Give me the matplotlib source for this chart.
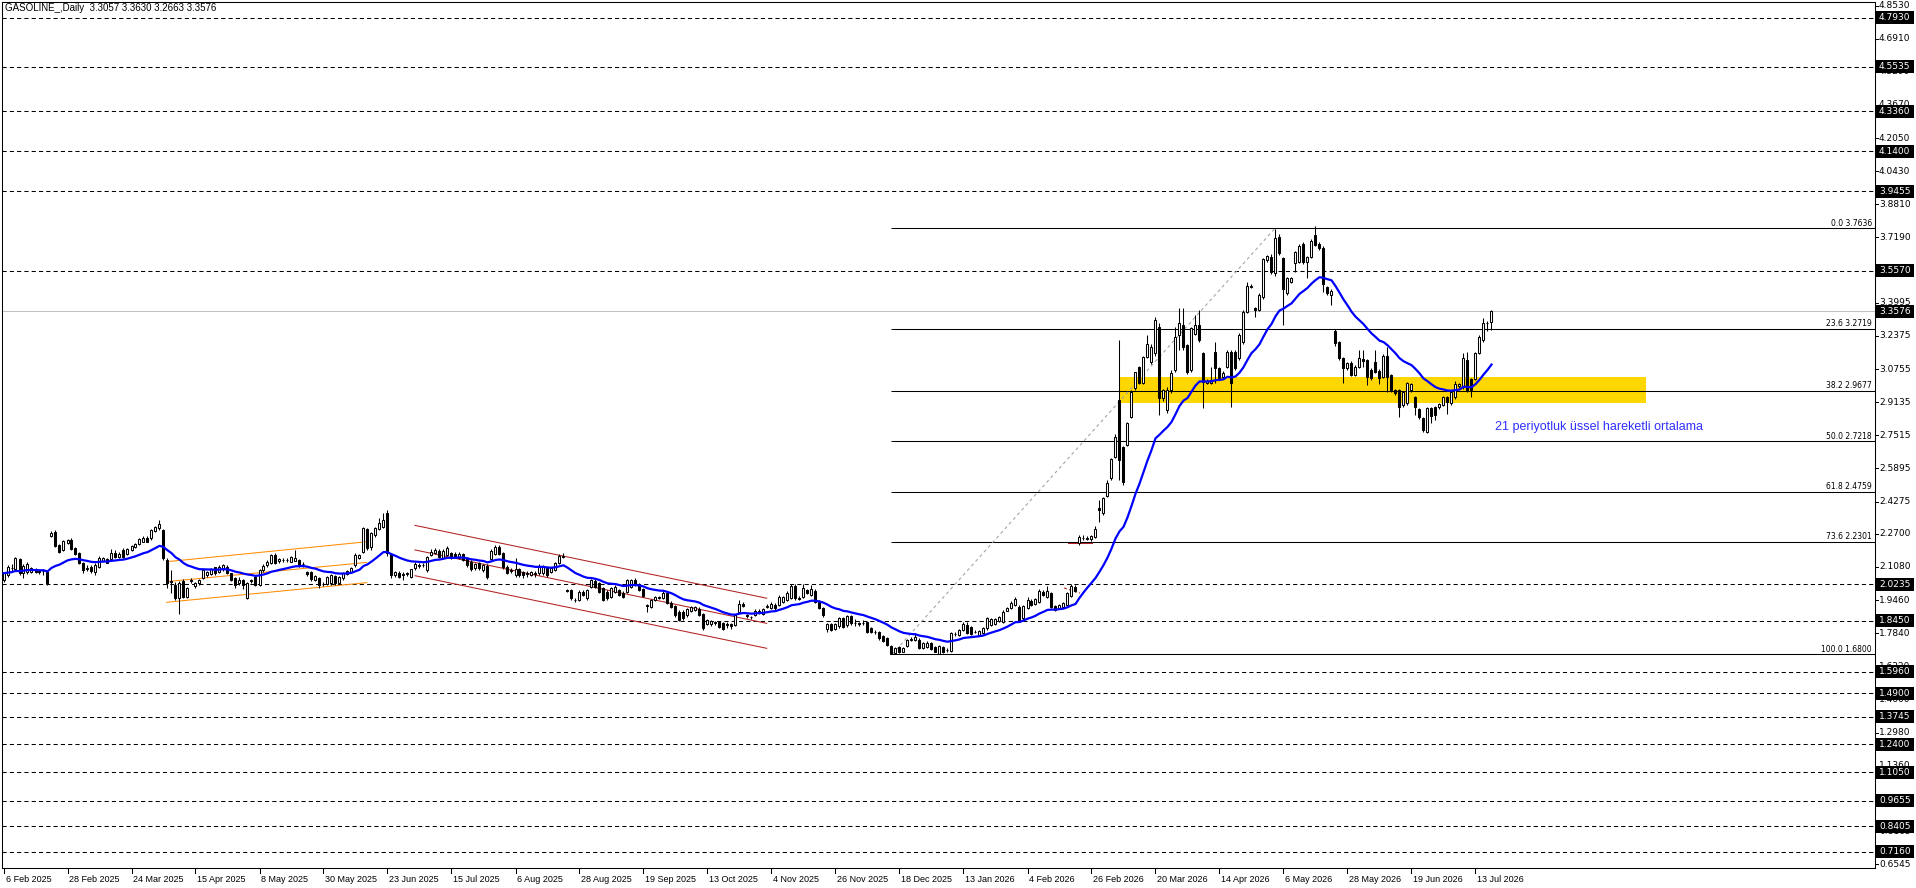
import matplotlib
matplotlib.use("Agg")

import matplotlib.pyplot as plt
import matplotlib.transforms as mtransforms
import numpy as np
import pandas as pd
from matplotlib.patches import Rectangle

# daily candles, 6 Feb 2025 .. 17 Jul 2026
OPENS = [
    2.044, 2.069, 2.105, 2.098, 2.146, 2.077, 2.085, 2.085, 2.099, 2.086,
    2.087, 2.085, 2.259, 2.280, 2.215, 2.191, 2.227, 2.240, 2.199, 2.175,
    2.126, 2.100, 2.109, 2.085, 2.109, 2.139, 2.145, 2.145, 2.175, 2.155,
    2.191, 2.171, 2.191, 2.204, 2.220, 2.232, 2.251, 2.248, 2.282, 2.297,
    2.289, 2.142, 2.040, 2.020, 1.958, 2.039, 1.963, 2.040, 2.015, 2.028,
    2.052, 2.069, 2.073, 2.106, 2.085, 2.096, 2.109, 2.077, 2.052, 2.028,
    2.044, 1.958, 2.040, 2.060, 2.020, 2.093, 2.117, 2.126, 2.166, 2.139,
    2.142, 2.140, 2.134, 2.139, 2.142, 2.122, 2.085, 2.085, 2.044, 2.055,
    2.025, 2.025, 2.028, 2.064, 2.028, 2.052, 2.073, 2.085, 2.117, 2.153,
    2.183, 2.292, 2.204, 2.264, 2.294, 2.305, 2.373, 2.171, 2.068, 2.080,
    2.068, 2.077, 2.060, 2.101, 2.112, 2.118, 2.093, 2.166, 2.174, 2.188,
    2.150, 2.166, 2.174, 2.171, 2.150, 2.171, 2.150, 2.134, 2.101, 2.126,
    2.093, 2.112, 2.145, 2.171, 2.207, 2.174, 2.109, 2.095, 2.068, 2.096,
    2.085, 2.074, 2.068, 2.080, 2.077, 2.077, 2.106, 2.085, 2.093, 2.126,
    2.158, 1.995, 1.995, 1.948, 1.946, 1.987, 1.954, 2.011, 2.040, 2.028,
    2.003, 1.987, 1.963, 1.987, 1.995, 1.982, 1.987, 2.011, 2.044, 2.024,
    1.998, 1.920, 1.914, 1.946, 1.958, 1.954, 1.979, 1.933, 1.917, 1.889,
    1.889, 1.873, 1.894, 1.897, 1.901, 1.878, 1.829, 1.827, 1.835, 1.840,
    1.835, 1.828, 1.827, 1.824, 1.889, 1.927, 1.873, 1.862, 1.873, 1.881,
    1.878, 1.910, 1.905, 1.922, 1.922, 1.938, 1.946, 1.954, 2.015, 1.956,
    1.959, 1.995, 1.971, 1.992, 1.938, 1.905, 1.803, 1.829, 1.803, 1.819,
    1.857, 1.824, 1.868, 1.836, 1.833, 1.834, 1.840, 1.808, 1.792, 1.791,
    1.770, 1.759, 1.721, 1.685, 1.718, 1.694, 1.721, 1.752, 1.751, 1.751,
    1.710, 1.718, 1.734, 1.718, 1.682, 1.718, 1.700, 1.698, 1.781, 1.775,
    1.800, 1.824, 1.816, 1.792, 1.775, 1.787, 1.808, 1.824, 1.829, 1.845,
    1.840, 1.894, 1.905, 1.922, 1.914, 1.857, 1.905, 1.943, 1.927, 1.938,
    1.987, 1.963, 1.979, 1.917, 1.905, 1.910, 1.922, 1.966, 2.008, 2.223,
    2.250, 2.246, 2.243, 2.253, 2.394, 2.370, 2.455, 2.541, 2.647, 2.924,
    2.693, 2.704, 2.843, 2.981, 3.085, 3.006, 3.136, 3.110, 3.152, 3.283,
    2.932, 2.875, 2.973, 3.071, 3.242, 3.291, 3.193, 3.071, 3.247, 3.291,
    3.152, 3.009, 3.005, 3.160, 3.079, 3.038, 3.087, 3.160, 3.160, 3.128,
    3.209, 3.356, 3.475, 3.372, 3.364, 3.429, 3.609, 3.625, 3.543, 3.723,
    3.617, 3.446, 3.503, 3.595, 3.600, 3.687, 3.600, 3.625, 3.731, 3.687,
    3.666, 3.475, 3.437, 3.263, 3.209, 3.128, 3.079, 3.106, 3.046, 3.087,
    3.123, 3.120, 3.071, 3.111, 3.067, 3.038, 3.139, 3.046, 2.973, 2.973,
    2.899, 2.908, 2.973, 2.937, 2.878, 2.834, 2.769, 2.883, 2.888, 2.888,
    2.899, 2.937, 2.908, 2.937, 2.992, 2.989, 3.120, 3.025, 3.025, 3.155,
    3.217, 3.299, 3.3057,
]
HIGHS = [
    2.085, 2.115, 2.120, 2.155, 2.152, 2.120, 2.130, 2.108, 2.105, 2.095,
    2.100, 2.090, 2.282, 2.290, 2.220, 2.240, 2.245, 2.250, 2.205, 2.180,
    2.130, 2.115, 2.115, 2.125, 2.160, 2.155, 2.150, 2.195, 2.190, 2.180,
    2.200, 2.200, 2.215, 2.225, 2.250, 2.260, 2.258, 2.295, 2.310, 2.338,
    2.295, 2.150, 2.093, 2.035, 2.040, 2.050, 2.010, 2.052, 2.035, 2.050,
    2.100, 2.090, 2.105, 2.110, 2.115, 2.120, 2.115, 2.080, 2.060, 2.060,
    2.050, 2.035, 2.050, 2.070, 2.100, 2.120, 2.140, 2.170, 2.175, 2.150,
    2.150, 2.150, 2.162, 2.191, 2.148, 2.130, 2.090, 2.090, 2.070, 2.060,
    2.035, 2.065, 2.075, 2.070, 2.065, 2.085, 2.095, 2.110, 2.175, 2.172,
    2.305, 2.300, 2.280, 2.305, 2.345, 2.370, 2.385, 2.175, 2.090, 2.090,
    2.085, 2.085, 2.100, 2.130, 2.125, 2.125, 2.160, 2.195, 2.200, 2.195,
    2.195, 2.210, 2.180, 2.180, 2.180, 2.178, 2.155, 2.140, 2.128, 2.130,
    2.122, 2.120, 2.195, 2.215, 2.215, 2.180, 2.115, 2.105, 2.150, 2.105,
    2.090, 2.090, 2.090, 2.090, 2.120, 2.118, 2.112, 2.110, 2.130, 2.170,
    2.178, 2.000, 2.000, 1.955, 1.995, 1.995, 2.000, 2.050, 2.050, 2.035,
    2.010, 1.995, 2.010, 2.020, 2.000, 1.990, 2.050, 2.050, 2.052, 2.030,
    2.005, 1.925, 1.952, 1.968, 1.965, 1.990, 1.985, 1.940, 1.920, 1.895,
    1.895, 1.905, 1.915, 1.918, 1.910, 1.882, 1.855, 1.850, 1.845, 1.845,
    1.840, 1.840, 1.835, 1.880, 1.945, 1.935, 1.878, 1.870, 1.900, 1.900,
    1.905, 1.925, 1.935, 1.930, 1.970, 1.968, 1.990, 2.025, 2.025, 1.965,
    2.025, 2.000, 2.020, 2.000, 1.945, 1.910, 1.835, 1.835, 1.835, 1.862,
    1.862, 1.873, 1.875, 1.855, 1.840, 1.850, 1.845, 1.815, 1.800, 1.795,
    1.775, 1.765, 1.725, 1.715, 1.722, 1.718, 1.755, 1.765, 1.785, 1.758,
    1.740, 1.745, 1.740, 1.722, 1.725, 1.722, 1.710, 1.788, 1.790, 1.805,
    1.840, 1.840, 1.820, 1.800, 1.800, 1.815, 1.862, 1.858, 1.860, 1.870,
    1.895, 1.910, 1.940, 1.960, 1.920, 1.922, 1.960, 1.950, 1.955, 2.000,
    1.995, 2.015, 1.985, 1.922, 1.928, 1.935, 1.985, 2.025, 2.020, 2.262,
    2.262, 2.260, 2.265, 2.310, 2.435, 2.450, 2.533, 2.640, 2.760, 3.218,
    2.700, 2.818, 2.973, 3.063, 3.090, 3.139, 3.242, 3.200, 3.331, 3.300,
    2.980, 2.990, 3.070, 3.283, 3.372, 3.372, 3.200, 3.280, 3.340, 3.364,
    3.160, 3.025, 3.087, 3.209, 3.085, 3.065, 3.170, 3.170, 3.170, 3.250,
    3.365, 3.503, 3.490, 3.380, 3.445, 3.620, 3.635, 3.640, 3.760, 3.735,
    3.625, 3.525, 3.525, 3.655, 3.685, 3.698, 3.630, 3.710, 3.775, 3.695,
    3.675, 3.480, 3.465, 3.270, 3.215, 3.135, 3.110, 3.115, 3.095, 3.168,
    3.168, 3.125, 3.080, 3.168, 3.075, 3.150, 3.185, 3.050, 2.980, 2.980,
    2.970, 3.010, 3.005, 2.945, 2.885, 2.840, 2.890, 2.890, 2.895, 2.910,
    2.945, 2.945, 2.970, 3.018, 3.005, 3.155, 3.160, 3.030, 3.160, 3.240,
    3.323, 3.310, 3.3630,
]
LOWS = [
    2.035, 2.060, 2.090, 2.090, 2.070, 2.052, 2.075, 2.080, 2.078, 2.072,
    2.070, 2.022, 2.255, 2.205, 2.175, 2.185, 2.220, 2.190, 2.165, 2.120,
    2.080, 2.090, 2.080, 2.068, 2.105, 2.130, 2.125, 2.140, 2.150, 2.150,
    2.150, 2.165, 2.185, 2.200, 2.215, 2.228, 2.228, 2.240, 2.278, 2.290,
    2.140, 2.003, 1.979, 1.945, 1.878, 1.955, 1.955, 2.030, 2.005, 2.020,
    2.048, 2.060, 2.068, 2.070, 2.080, 2.090, 2.075, 2.040, 2.005, 2.020,
    2.000, 1.950, 2.030, 2.015, 2.015, 2.085, 2.110, 2.120, 2.120, 2.125,
    2.130, 2.130, 2.130, 2.135, 2.110, 2.110, 2.065, 2.040, 2.040, 2.003,
    2.015, 2.020, 2.020, 2.022, 2.025, 2.045, 2.070, 2.080, 2.110, 2.145,
    2.175, 2.190, 2.190, 2.255, 2.290, 2.300, 2.160, 2.055, 2.060, 2.055,
    2.044, 2.065, 2.055, 2.095, 2.105, 2.110, 2.085, 2.160, 2.170, 2.150,
    2.145, 2.160, 2.145, 2.150, 2.145, 2.135, 2.110, 2.090, 2.095, 2.095,
    2.085, 2.050, 2.140, 2.165, 2.165, 2.100, 2.075, 2.080, 2.060, 2.060,
    2.055, 2.060, 2.062, 2.060, 2.070, 2.070, 2.060, 2.080, 2.088, 2.120,
    2.150, 1.985, 1.945, 1.935, 1.940, 1.965, 1.945, 2.005, 2.005, 1.980,
    1.940, 1.948, 1.955, 1.980, 1.965, 1.955, 1.980, 2.005, 2.015, 1.990,
    1.960, 1.889, 1.905, 1.940, 1.950, 1.950, 1.925, 1.905, 1.865, 1.845,
    1.850, 1.865, 1.888, 1.890, 1.868, 1.800, 1.825, 1.820, 1.825, 1.810,
    1.798, 1.810, 1.805, 1.818, 1.885, 1.912, 1.860, 1.855, 1.868, 1.876,
    1.872, 1.905, 1.900, 1.898, 1.915, 1.930, 1.940, 1.950, 1.948, 1.945,
    1.955, 1.975, 1.965, 1.930, 1.900, 1.865, 1.790, 1.795, 1.798, 1.810,
    1.810, 1.815, 1.825, 1.820, 1.820, 1.825, 1.785, 1.785, 1.780, 1.752,
    1.740, 1.720, 1.680, 1.681, 1.688, 1.690, 1.715, 1.745, 1.745, 1.705,
    1.705, 1.712, 1.700, 1.690, 1.681, 1.688, 1.690, 1.690, 1.770, 1.770,
    1.795, 1.778, 1.775, 1.785, 1.770, 1.780, 1.800, 1.818, 1.824, 1.840,
    1.835, 1.890, 1.900, 1.918, 1.840, 1.850, 1.900, 1.918, 1.920, 1.932,
    1.965, 1.958, 1.908, 1.890, 1.900, 1.905, 1.918, 1.960, 1.985, 2.215,
    2.240, 2.240, 2.235, 2.248, 2.329, 2.360, 2.448, 2.533, 2.640, 2.533,
    2.509, 2.700, 2.834, 2.975, 3.000, 3.000, 3.130, 3.100, 3.140, 2.851,
    2.920, 2.860, 2.960, 3.060, 3.168, 3.170, 3.050, 3.060, 3.240, 3.210,
    2.883, 3.000, 3.000, 3.005, 3.020, 3.030, 3.080, 2.891, 3.070, 3.120,
    3.200, 3.350, 3.470, 3.330, 3.360, 3.420, 3.600, 3.540, 3.530, 3.635,
    3.291, 3.440, 3.495, 3.551, 3.595, 3.590, 3.519, 3.620, 3.675, 3.660,
    3.454, 3.440, 3.388, 3.190, 3.120, 3.005, 3.070, 3.040, 3.040, 3.080,
    3.087, 2.997, 3.020, 3.055, 3.000, 3.030, 2.965, 2.965, 2.950, 2.842,
    2.890, 2.900, 2.965, 2.851, 2.830, 2.770, 2.762, 2.810, 2.826, 2.880,
    2.895, 2.855, 2.900, 2.930, 2.985, 2.980, 2.965, 2.940, 3.020, 3.150,
    3.210, 3.263, 3.2663,
]
CLOSES = [
    2.077, 2.109, 2.104, 2.150, 2.077, 2.113, 2.121, 2.101, 2.085, 2.084,
    2.090, 2.028, 2.276, 2.210, 2.183, 2.236, 2.240, 2.196, 2.171, 2.126,
    2.093, 2.102, 2.088, 2.117, 2.150, 2.150, 2.129, 2.178, 2.155, 2.171,
    2.158, 2.194, 2.210, 2.220, 2.243, 2.251, 2.232, 2.289, 2.302, 2.318,
    2.150, 2.028, 2.036, 1.954, 2.028, 1.959, 2.003, 2.046, 2.031, 2.044,
    2.093, 2.085, 2.096, 2.077, 2.109, 2.117, 2.080, 2.044, 2.020, 2.044,
    2.020, 2.028, 2.042, 2.020, 2.093, 2.113, 2.134, 2.166, 2.126, 2.145,
    2.140, 2.144, 2.158, 2.150, 2.117, 2.120, 2.073, 2.047, 2.064, 2.020,
    2.024, 2.057, 2.069, 2.028, 2.057, 2.077, 2.088, 2.101, 2.166, 2.166,
    2.297, 2.199, 2.272, 2.297, 2.325, 2.338, 2.175, 2.068, 2.085, 2.060,
    2.072, 2.074, 2.096, 2.122, 2.118, 2.115, 2.155, 2.183, 2.191, 2.158,
    2.188, 2.199, 2.150, 2.155, 2.171, 2.142, 2.117, 2.096, 2.122, 2.101,
    2.117, 2.060, 2.188, 2.207, 2.171, 2.109, 2.080, 2.090, 2.096, 2.068,
    2.068, 2.078, 2.085, 2.075, 2.109, 2.109, 2.068, 2.101, 2.126, 2.161,
    2.163, 1.990, 1.954, 1.946, 1.987, 1.971, 1.995, 2.044, 2.011, 1.987,
    1.946, 1.954, 2.003, 2.011, 1.971, 1.963, 2.044, 2.044, 2.020, 1.995,
    1.966, 1.917, 1.946, 1.963, 1.960, 1.982, 1.930, 1.914, 1.873, 1.848,
    1.857, 1.901, 1.910, 1.910, 1.873, 1.808, 1.848, 1.845, 1.838, 1.816,
    1.803, 1.826, 1.818, 1.873, 1.927, 1.917, 1.866, 1.861, 1.894, 1.894,
    1.901, 1.917, 1.927, 1.905, 1.963, 1.963, 1.982, 2.015, 1.954, 1.953,
    2.003, 1.979, 1.998, 1.938, 1.905, 1.873, 1.829, 1.800, 1.829, 1.857,
    1.816, 1.868, 1.832, 1.834, 1.831, 1.836, 1.791, 1.791, 1.790, 1.759,
    1.747, 1.726, 1.682, 1.710, 1.694, 1.713, 1.751, 1.755, 1.764, 1.710,
    1.734, 1.738, 1.705, 1.694, 1.721, 1.694, 1.703, 1.783, 1.779, 1.800,
    1.829, 1.783, 1.780, 1.790, 1.796, 1.808, 1.857, 1.852, 1.852, 1.861,
    1.889, 1.905, 1.933, 1.950, 1.845, 1.917, 1.946, 1.922, 1.950, 1.992,
    1.971, 1.992, 1.914, 1.897, 1.922, 1.930, 1.979, 2.015, 1.992, 2.256,
    2.247, 2.249, 2.259, 2.292, 2.386, 2.443, 2.520, 2.634, 2.745, 2.631,
    2.525, 2.813, 2.965, 3.062, 3.006, 3.136, 3.200, 3.185, 3.315, 2.932,
    2.973, 2.973, 3.058, 3.234, 3.299, 3.185, 3.062, 3.274, 3.291, 3.217,
    3.014, 3.018, 3.022, 3.079, 3.030, 3.058, 3.160, 3.009, 3.079, 3.242,
    3.356, 3.481, 3.481, 3.364, 3.437, 3.612, 3.628, 3.551, 3.714, 3.641,
    3.465, 3.519, 3.519, 3.649, 3.677, 3.600, 3.622, 3.703, 3.682, 3.666,
    3.491, 3.449, 3.457, 3.201, 3.128, 3.079, 3.103, 3.046, 3.087, 3.128,
    3.116, 3.038, 3.030, 3.062, 3.030, 3.139, 3.038, 2.973, 2.957, 2.891,
    2.965, 3.005, 3.002, 2.888, 2.842, 2.777, 2.883, 2.846, 2.851, 2.904,
    2.940, 2.916, 2.965, 3.002, 3.000, 3.128, 2.973, 2.973, 3.155, 3.234,
    3.302, 3.302, 3.3576,
]

DATE_LABELS = [
    "6 Feb 2025", "28 Feb 2025", "24 Mar 2025", "15 Apr 2025", "8 May 2025",
    "30 May 2025", "23 Jun 2025", "15 Jul 2025", "6 Aug 2025", "28 Aug 2025",
    "19 Sep 2025", "13 Oct 2025", "4 Nov 2025", "26 Nov 2025", "18 Dec 2025",
    "13 Jan 2026", "4 Feb 2026", "26 Feb 2026", "20 Mar 2026", "14 Apr 2026",
    "6 May 2026", "28 May 2026", "19 Jun 2026", "13 Jul 2026",
]

PRICE_TICKS = [
    "4.8530", "4.6910", "4.5290", "4.3670", "4.2050", "4.0430", "3.8810",
    "3.7190", "3.5570", "3.3995", "3.2375", "3.0755", "2.9135", "2.7515",
    "2.5895", "2.4275", "2.2700", "2.1080", "1.9460", "1.7840", "1.6220",
    "1.4600", "1.2980", "1.1360", "0.9740", "0.8165", "0.6545",
]

# horizontal support / resistance levels (dashed)
LEVELS = [4.7930, 4.5535, 4.3360, 4.1400, 3.9455, 3.5570, 2.0235, 1.8450,
          1.5960, 1.4900, 1.3745, 1.2400, 1.1050, 0.9655, 0.8405, 0.7160]
LAST_PRICE = 3.3576

FIB_RATIOS = ["0.0", "23.6", "38.2", "50.0", "61.8", "73.6", "100.0"]
FIB_PRICES = [3.7636, 3.2719, 2.9677, 2.7218, 2.4759, 2.2301, 1.6800]

TITLE = "GASOLINE_,Daily  3.3057 3.3630 3.2663 3.3576"
EMA_NOTE = "21 periyotluk üssel hareketli ortalama"

# pixel geometry of the reference
W, H = 1916, 888
LEFT, RIGHT, TOP, BOTTOM = 2, 1875, 2, 868
BAR_PX = 4.0
PX_PER_UNIT = 204.5
Y_ZERO = 998.0


def px_to_bar(px: float) -> float:
    return (px - 3.5) / BAR_PX


def px_to_price(py: float) -> float:
    return (Y_ZERO - py) / PX_PER_UNIT


def draw_candles(ax, o, h, l, c) -> None:
    idx = np.arange(len(c))
    up = c >= o
    ax.vlines(idx, l, h, color="black", lw=0.75, zorder=3)
    ax.bar(idx, np.abs(c - o), bottom=np.minimum(o, c), width=0.5,
           color=np.where(up, "white", "black"), edgecolor="black",
           linewidth=0.75, zorder=4)


def main() -> None:
    o = np.array(OPENS)
    h = np.array(HIGHS)
    l = np.array(LOWS)
    c = np.array(CLOSES)
    assert len(o) == len(h) == len(l) == len(c)

    fig = plt.figure(figsize=(W / 100, H / 100), dpi=100)
    fig.patch.set_facecolor("white")
    ax = fig.add_axes([LEFT / W, 1 - BOTTOM / H, (RIGHT - LEFT) / W, (BOTTOM - TOP) / H])
    x0 = px_to_bar(LEFT)
    x1 = px_to_bar(RIGHT)
    ax.set_xlim(x0, x1)
    ax.set_ylim(px_to_price(BOTTOM), px_to_price(TOP))
    ax.set_xticks([])
    ax.set_yticks([])
    for sp in ax.spines.values():
        sp.set_color("black")
        sp.set_linewidth(0.75)

    # background objects
    ax.add_patch(Rectangle((px_to_bar(1119), px_to_price(402.7)),
                           px_to_bar(1646) - px_to_bar(1119),
                           px_to_price(377.3) - px_to_price(402.7),
                           facecolor="#ffd700", edgecolor="none", zorder=0.5))

    ax.axhline(LAST_PRICE, color="#c0c0c0", lw=0.75, zorder=1)
    for lv in LEVELS:
        ax.axhline(lv, color="black", lw=0.75, ls=(0, (4, 3)), zorder=1)

    # fibonacci retracement
    fib_start = px_to_bar(891)
    ax.hlines(FIB_PRICES, fib_start, x1, color="black", lw=0.75, zorder=2)
    ax.plot([px_to_bar(892), px_to_bar(1275)], [FIB_PRICES[-1], FIB_PRICES[0]],
            color="#a0a0a0", lw=0.75, ls=(0, (3, 3)), zorder=2)
    right_tr = mtransforms.blended_transform_factory(ax.transAxes, ax.transData)
    for ratio, price in zip(FIB_RATIOS, FIB_PRICES):
        ax.text(1 - 3 / (RIGHT - LEFT), price + 0.004, f"{ratio} {price:.4f}",
                transform=right_tr, ha="right", va="bottom", fontsize=5.5,
                family="DejaVu Sans", zorder=6)

    # channels
    for a, b in [(2.1335, 2.231), (2.036, 2.130), (1.935, 2.031)]:
        ax.plot([px_to_bar(166.7), px_to_bar(366.7)], [a, b],
                color="#ff8c00", lw=0.75, zorder=2)
    for a, b in [(2.311, 1.955), (2.191, 1.832), (2.065, 1.710)]:
        ax.plot([px_to_bar(415), px_to_bar(766.7)], [a, b],
                color="#b22222", lw=0.75, zorder=2)
    ax.plot([px_to_bar(1068), px_to_bar(1092)], [2.223, 2.223],
            color="#b22222", lw=0.75, zorder=2)
    ax.plot([px_to_bar(1064), px_to_bar(1080)], [2.005, 1.980],
            color="#b22222", lw=0.75, ls=(0, (3, 2)), zorder=2)

    draw_candles(ax, o, h, l, c)

    ema = pd.Series(c).ewm(span=21, adjust=False).mean()
    ax.plot(np.arange(len(c)), ema, color="#0000ff", lw=1.6, zorder=5)

    ax.text(px_to_bar(1495), px_to_price(427), EMA_NOTE, color="#3030ff",
            fontsize=9, family="Liberation Sans", va="center", ha="left", zorder=6)

    # right price scale
    tick_x = 1 + 4 / (RIGHT - LEFT)
    for s in PRICE_TICKS:
        v = float(s)
        ax.plot([1, 1 + 3 / (RIGHT - LEFT)], [v, v], color="black", lw=0.75,
                transform=right_tr, clip_on=False)
        ax.text(tick_x, v, s, transform=right_tr, ha="left", va="center",
                fontsize=6.5, family="DejaVu Sans", clip_on=False, zorder=7)
    box_h = 13 / PX_PER_UNIT
    for lv in LEVELS + [LAST_PRICE]:
        ax.add_patch(Rectangle((1 + 1 / (RIGHT - LEFT), lv - box_h / 2),
                               38 / (RIGHT - LEFT), box_h, transform=right_tr,
                               facecolor="black", edgecolor="none",
                               clip_on=False, zorder=8))
        ax.text(tick_x, lv, f"{lv:.4f}", transform=right_tr, ha="left",
                va="center", fontsize=6.5, family="DejaVu Sans", color="white",
                clip_on=False, zorder=9)

    # time scale
    bottom_tr = mtransforms.blended_transform_factory(ax.transData, ax.transAxes)
    for k, lab in enumerate(DATE_LABELS):
        bx = 16 * k
        ax.plot([bx, bx], [0, -5 / (BOTTOM - TOP)], color="black", lw=0.75,
                transform=bottom_tr, clip_on=False)
        ax.text(bx + 0.5, -11 / (BOTTOM - TOP), lab, transform=bottom_tr,
                ha="left", va="center", fontsize=6.5, family="Liberation Sans",
                clip_on=False)

    fig.text(5 / W, 1 - 8 / H, TITLE, fontsize=7, family="Liberation Sans",
             ha="left", va="center")

    fig.savefig("out.png", dpi=100, facecolor="white")


if __name__ == "__main__":
    main()
